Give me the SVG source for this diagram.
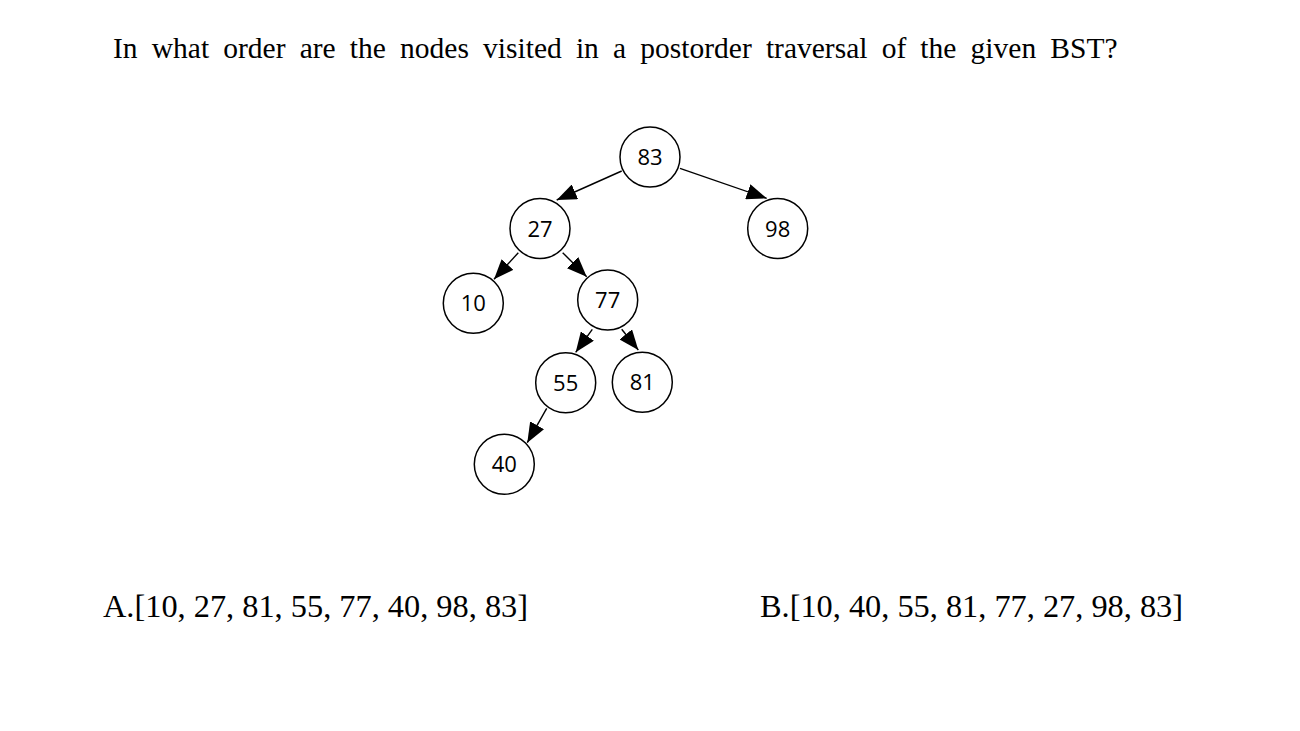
<svg xmlns="http://www.w3.org/2000/svg" width="1300" height="731" viewBox="0 0 1300 731">
<style>
.q{font-family:"Liberation Serif","Times New Roman",serif;fill:#000}
.n circle{fill:#fff;stroke:#000;stroke-width:1.5}
.n text{font-family:"Open Sans","Liberation Sans",sans-serif;font-size:22px;text-anchor:middle;fill:#000}
.e line{stroke:#000;stroke-width:1.4;marker-end:url(#ah)}
</style>
<defs>
<marker id="ah" markerUnits="userSpaceOnUse" markerWidth="20" markerHeight="16" refX="20" refY="8" orient="auto" viewBox="0 0 20 16">
<path d="M0,0 L20,8 L0,16 Z" fill="#000"/>
</marker>
</defs>
<rect width="1300" height="731" fill="#fff"/>
<text class="q" x="113" y="58" font-size="29.5" word-spacing="6.8">In what order are the nodes visited in a postorder traversal of the given BST?</text>
<g class="e" id="connectors">
<line x1="621.7" y1="171" x2="556.7" y2="200"/>
<line x1="680" y1="168.3" x2="766.7" y2="198.3"/>
<line x1="518.3" y1="252.7" x2="494" y2="279.3"/>
<line x1="562.7" y1="252.7" x2="586.7" y2="276.7"/>
<line x1="592.3" y1="329.3" x2="575.7" y2="352.3"/>
<line x1="621.7" y1="329.3" x2="638.3" y2="350"/>
<line x1="546.7" y1="408.3" x2="527.3" y2="442.7"/>
</g>
<g class="n" id="n83"><circle cx="650" cy="157" r="30"/><text x="650" y="165">83</text></g>
<g class="n" id="n27"><circle cx="540" cy="228.5" r="30"/><text x="540" y="236.5">27</text></g>
<g class="n" id="n98"><circle cx="777.7" cy="228.5" r="30"/><text x="777.7" y="236.5">98</text></g>
<g class="n" id="n10"><circle cx="473.3" cy="303.3" r="30"/><text x="473.3" y="311.3">10</text></g>
<g class="n" id="n77"><circle cx="607.7" cy="300" r="30"/><text x="607.7" y="308">77</text></g>
<g class="n" id="n55"><circle cx="565.7" cy="382.7" r="30"/><text x="565.7" y="390.7">55</text></g>
<g class="n" id="n81"><circle cx="642.3" cy="382.3" r="30"/><text x="642.3" y="390.3">81</text></g>
<g class="n" id="n40"><circle cx="504.3" cy="464.3" r="30"/><text x="504.3" y="472.3">40</text></g>
<text class="q" x="103" y="617" font-size="32" textLength="425" lengthAdjust="spacingAndGlyphs">A.[10, 27, 81, 55, 77, 40, 98, 83]</text>
<text class="q" x="760" y="617" font-size="32" textLength="423" lengthAdjust="spacingAndGlyphs">B.[10, 40, 55, 81, 77, 27, 98, 83]</text>
</svg>
